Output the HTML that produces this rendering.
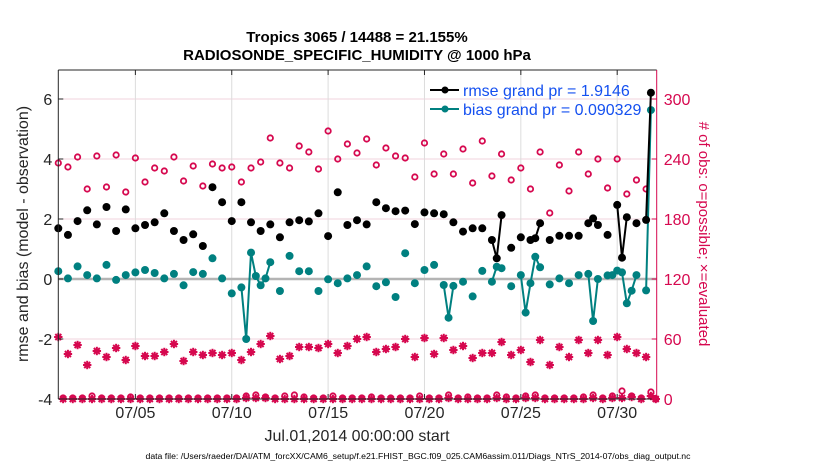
<!DOCTYPE html>
<html><head><meta charset="utf-8">
<style>
html,body{margin:0;padding:0;background:#fff;}
svg{display:block;font-family:"Liberation Sans",Arial,sans-serif;}
</style></head>
<body>
<svg id="chart" width="830" height="470" viewBox="0 0 830 470" xmlns="http://www.w3.org/2000/svg">
<text x="357" y="42" text-anchor="middle" font-size="15" font-weight="bold">Tropics 3065 / 14488 = 21.155%</text>
<text x="357" y="60" text-anchor="middle" font-size="15" font-weight="bold">RADIOSONDE_SPECIFIC_HUMIDITY @ 1000 hPa</text>
<g id="grid"></g>
<g id="marks"></g>
<g id="axes"></g>
<text transform="translate(28,234) rotate(-90)" text-anchor="middle" font-size="16" fill="#262626">rmse and bias (model - observation)</text>
<text transform="translate(699,234) rotate(90)" text-anchor="middle" font-size="15" fill="#d6084f"># of obs: o=possible; ×=evaluated</text>
<text x="357" y="441" text-anchor="middle" font-size="16" fill="#262626">Jul.01,2014 00:00:00 start</text>
<text x="418" y="459" text-anchor="middle" font-size="8.7" fill="#000">data file: /Users/raeder/DAI/ATM_forcXX/CAM6_setup/f.e21.FHIST_BGC.f09_025.CAM6assim.011/Diags_NTrS_2014-07/obs_diag_output.nc</text>
<g>
  <line x1="430" y1="90" x2="459" y2="90" stroke="#000" stroke-width="2"/>
  <circle cx="445" cy="90" r="3.5" fill="#000"/>
  <text x="463" y="96" font-size="16" fill="#1450f0">rmse grand pr = 1.9146</text>
  <line x1="430" y1="109" x2="459" y2="109" stroke="#008080" stroke-width="2"/>
  <circle cx="445" cy="109" r="3.5" fill="#008080"/>
  <text x="463" y="115" font-size="16" fill="#1450f0">bias grand pr = 0.090329</text>
</g>
</svg>
<script>
// 12-hourly samples (Jul 1 00Z, 12Z, ... Aug 1 00Z) and 6-hourly off-slots (06Z/18Z)
const rmse12 = [1.69,1.47,1.93,2.29,1.82,2.40,1.60,2.32,1.69,1.80,1.89,2.19,1.60,1.30,1.49,1.10,3.06,2.56,1.93,2.56,1.89,1.60,1.82,1.39,1.89,1.96,1.92,2.19,1.43,2.89,1.80,1.96,1.82,2.56,2.36,2.26,2.28,1.83,2.22,2.19,2.16,1.89,1.58,1.69,1.69,1.30,2.13,1.04,1.39,1.30,1.86,1.30,1.44,1.44,1.44,1.86,1.80,1.47,2.47,2.06,1.86,1.97,null];
const rmse6 = [null,null,null,null,null,null,null,null,null,null,null,null,null,null,null,null,null,null,null,null,null,null,null,null,null,null,null,null,null,null,null,null,null,null,null,null,null,null,null,null,null,null,null,null,null,0.69,null,null,null,1.36,null,null,null,null,null,2.02,null,null,0.71,null,null,6.21];
const bias12 = [0.26,0.02,0.42,0.13,0.02,0.47,-0.03,0.13,0.22,0.30,0.20,0.02,0.17,-0.21,0.23,0.17,0.69,0.02,-0.48,-0.28,0.88,-0.21,0.56,-0.40,0.77,0.26,0.26,-0.40,-0.01,-0.14,0.02,0.13,0.42,-0.24,-0.11,-0.60,0.86,-0.14,0.30,0.47,-0.20,-0.23,-0.09,-0.58,0.27,-0.09,0.36,-0.24,0.13,-0.14,0.39,-0.18,0.02,-0.14,0.13,0.17,0.00,0.12,0.28,-0.81,0.13,-0.38,null];
const bias6 = [null,null,null,null,null,null,null,null,null,null,null,null,null,null,null,null,null,null,null,-2.0,0.10,0.02,null,null,null,null,null,null,null,null,null,null,null,null,null,null,null,null,null,null,-1.29,null,null,null,null,0.41,null,null,-1.12,0.74,null,null,null,null,null,-1.40,null,0.13,0.22,-0.39,null,5.63];
const poss12 = [236,232,242,210,243,212,244,207,241,217,231,228,242,218,233,213,235,231,232,217,231,237,261,236,231,253,247,230,268,240,255,246,260,234,251,243,241,222,256,225,245,225,250,216,258,223,245,219,231,210,247,186,234,208,247,225,240,211,240,205,219,210,0];
const poss6 = [1,1,1,3,1,1,1,2,1,1,1,1,1,1,1,1,1,1,1,3,4,2,1,3,4,2,1,1,3,1,1,1,2,1,1,1,1,3,1,1,4,1,2,1,1,4,2,1,3,4,1,1,1,1,2,4,1,3,8,3,1,7];
const eval12 = [62,45,54,34,48,42,51,39,53,43,43,47,55,38,47,44,46,44,46,39,47,55,63,40,43,52,52,51,55,46,53,60,62,47,50,52,60,42,61,45,61,49,53,41,46,46,57,44,49,37,59,34,52,42,59,46,59,44,62,50,46,42,0];
const eval6 = [0,0,0,0,0,0,0,0,0,0,0,0,0,0,0,0,0,0,0,1,1,1,0,0,0,0,0,0,0,0,0,0,0,0,0,0,0,0,0,0,1,0,0,0,0,1,0,0,1,1,0,0,0,0,0,1,0,1,1,2,0,3];
const xTickDays = [5,10,15,20,25,30];
const xTickLabels = ["07/05","07/10","07/15","07/20","07/25","07/30"];
const leftTicks = [-4,-2,0,2,4,6];
const rightTicks = [0,60,120,180,240,300];

const NS = "http://www.w3.org/2000/svg";
const PL = 58.3, PR = 656.7, PT = 70, PB = 399;
const X0 = 1, X1 = 32.05;
const xS = d => PL + (d - X0) / (X1 - X0) * (PR - PL);
const yL = v => 279 - v * 30;
const yR = c => 399 - c * (300 / 300);
function mk(tag, attrs, parent){ const e=document.createElementNS(NS,tag); for(const k in attrs) e.setAttribute(k,attrs[k]); parent.appendChild(e); return e; }

function merge(a12, a6){ const out=[]; for(let i=0;i<a12.length;i++){ out.push({d:1+i*0.5, v:a12[i]}); if(i<a6.length) out.push({d:1.25+i*0.5, v:a6[i]}); } return out; }
const rmse = merge(rmse12, rmse6), bias = merge(bias12, bias6), poss = merge(poss12, poss6), evl = merge(eval12, eval6);

const grid = document.getElementById('grid');
const marks = document.getElementById('marks');
const axes = document.getElementById('axes');

rightTicks.forEach(t=>{
  const l = mk('line',{x1:PL,x2:PR,y1:yR(t),y2:yR(t),stroke:'#f2d3dd','stroke-width':1},grid);
  
  
});
xTickDays.forEach(d=>{
  const l = mk('line',{x1:xS(d),x2:xS(d),y1:PT,y2:PB,stroke:'#dcdcdc','stroke-width':1},grid);
  
  
});
const zl = mk('line',{x1:PL,x2:PR,y1:yL(0),y2:yL(0),stroke:'#b4b4b4','stroke-width':2.5},grid);



function star(cx, cy){
  const g = mk('g',{stroke:'#d6084f','stroke-width':2},marks);
  
  
  const r=4.2, r2=3;
  mk('line',{x1:cx-r,x2:cx+r,y1:cy,y2:cy},g);
  mk('line',{x1:cx,x2:cx,y1:cy-r,y2:cy+r},g);
  mk('line',{x1:cx-r2,x2:cx+r2,y1:cy-r2,y2:cy+r2},g);
  mk('line',{x1:cx-r2,x2:cx+r2,y1:cy+r2,y2:cy-r2},g);
}
poss.forEach(p=>{
  if(p.v==null) return;
  const c = mk('circle',{cx:xS(p.d),cy:yR(p.v),r:2.7,fill:'none',stroke:'#d6084f','stroke-width':1.8},marks);
  
  
});
evl.forEach(p=>{ if(p.v!=null) star(xS(p.d), yR(p.v)); });

function series(arr, color, name){
  let d='', pen=false;
  arr.forEach(p=>{
    if(p.v==null){ pen=false; return; }
    d += (pen?'L':'M') + xS(p.d).toFixed(1) + ' ' + yL(p.v).toFixed(1) + ' ';
    pen=true;
  });
  const path = mk('path',{d:d,fill:'none',stroke:color,'stroke-width':2,'stroke-linejoin':'round'},marks);
  
  
  arr.forEach(p=>{
    if(p.v==null) return;
    const c = mk('circle',{cx:xS(p.d),cy:yL(p.v),r:4,fill:color},marks);
    
    
  });
}
series(bias,'#008080','bias');
series(rmse,'#000000','rmse');

mk('line',{x1:PL,x2:PL,y1:PT,y2:PB,stroke:'#262626','stroke-width':1},axes);
mk('line',{x1:PL,x2:PR,y1:PT,y2:PT,stroke:'#262626','stroke-width':1},axes);
mk('line',{x1:PL,x2:PR,y1:PB,y2:PB,stroke:'#262626','stroke-width':1},axes);
mk('line',{x1:PR,x2:PR,y1:PT,y2:PB,stroke:'#d6084f','stroke-width':1},axes);
leftTicks.forEach(t=>{
  mk('line',{x1:PL,x2:PL+5,y1:yL(t),y2:yL(t),stroke:'#262626'},axes);
  const tx = mk('text',{x:PL-6,y:yL(t)+6,'text-anchor':'end','font-size':16,fill:'#262626'},axes);
  tx.textContent = String(t);
  
  
});
rightTicks.forEach(t=>{
  mk('line',{x1:PR-5,x2:PR,y1:yR(t),y2:yR(t),stroke:'#d6084f'},axes);
  const tx = mk('text',{x:PR+7,y:yR(t)+6,'font-size':16,fill:'#d6084f'},axes);
  tx.textContent = String(t);
  
  
});
xTickDays.forEach((d,i)=>{
  mk('line',{x1:xS(d),x2:xS(d),y1:PB,y2:PB-5,stroke:'#262626'},axes);
  mk('line',{x1:xS(d),x2:xS(d),y1:PT,y2:PT+5,stroke:'#262626'},axes);
  const tx = mk('text',{x:xS(d),y:PB+19,'text-anchor':'middle','font-size':16,fill:'#262626'},axes);
  tx.textContent = xTickLabels[i];
  
  
});
</script>
</body></html>
